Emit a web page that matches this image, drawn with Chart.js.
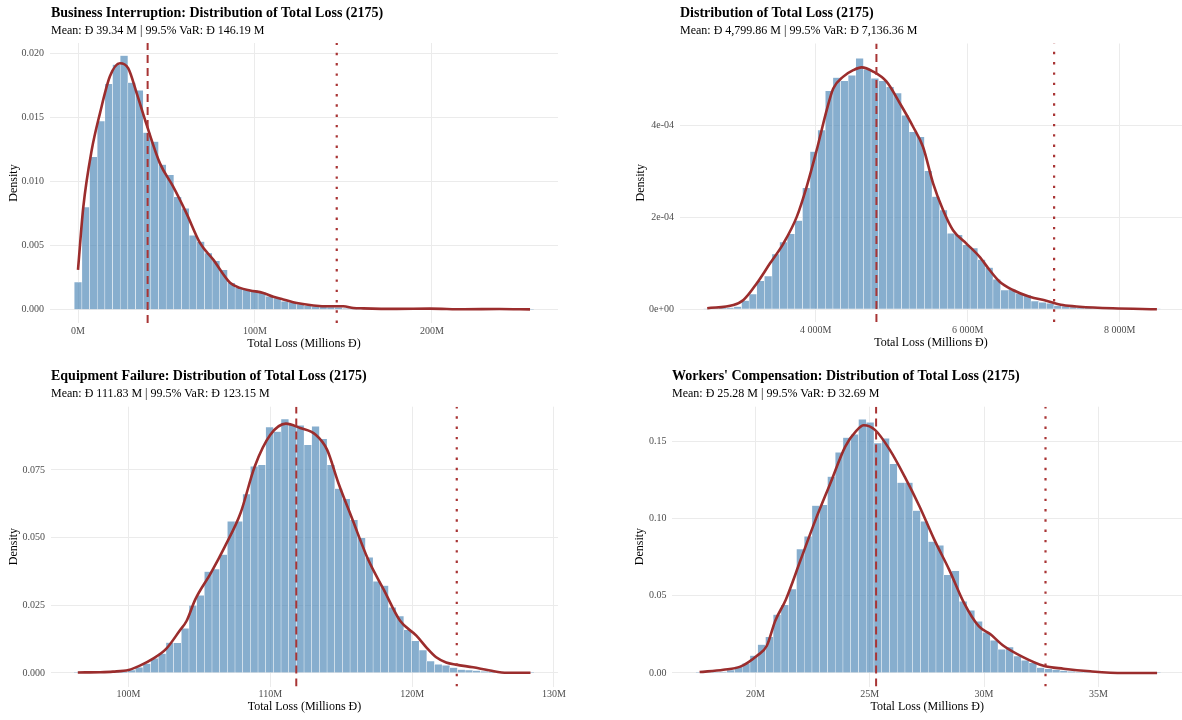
<!DOCTYPE html>
<html>
<head>
<meta charset="utf-8">
<title>Distribution of Total Loss (2175)</title>
<script src="https://cdn.jsdelivr.net/npm/chart.js@4.4.1/dist/chart.umd.min.js"></script>
<style>
  body { margin: 0; width: 1182px; height: 720px; overflow: hidden; background: #fff; position: relative;
         font-family: "Liberation Serif", "Times New Roman", "DejaVu Serif", serif; }
  .panel { position: absolute; width: 591px; height: 360px; }
  .panel canvas { position: absolute; left: 0; top: 0; }
  .titulo { position: absolute; font-weight: bold; font-size: 14px; line-height: 16px; white-space: nowrap; color: #000; }
  .subtitulo { position: absolute; font-size: 12px; line-height: 14px; white-space: nowrap; color: #000; }
</style>
</head>
<body>

<div class="panel" style="left:0px;top:0px"><canvas id="chartBI" width="591" height="360"></canvas></div>
<div class="panel" style="left:591px;top:0px"><canvas id="chartTotal" width="591" height="360"></canvas></div>
<div class="panel" style="left:0px;top:360px"><canvas id="chartEF" width="591" height="360"></canvas></div>
<div class="panel" style="left:591px;top:360px"><canvas id="chartWC" width="591" height="360"></canvas></div>

<div class="titulo" style="left:51px;top:5px">Business Interruption: Distribution of Total Loss (2175)</div>
<div class="subtitulo" style="left:51px;top:23px">Mean: Đ 39.34 M | 99.5% VaR: Đ 146.19 M</div>
<div class="titulo" style="left:680px;top:5px">Distribution of Total Loss (2175)</div>
<div class="subtitulo" style="left:680px;top:23px">Mean: Đ 4,799.86 M | 99.5% VaR: Đ 7,136.36 M</div>
<div class="titulo" style="left:51px;top:368px">Equipment Failure: Distribution of Total Loss (2175)</div>
<div class="subtitulo" style="left:51px;top:386px">Mean: Đ 111.83 M | 99.5% VaR: Đ 123.15 M</div>
<div class="titulo" style="left:672px;top:368px">Workers' Compensation: Distribution of Total Loss (2175)</div>
<div class="subtitulo" style="left:672px;top:386px">Mean: Đ 25.28 M | 99.5% VaR: Đ 32.69 M</div>

<script>
// ---- Business Interruption (millions) ----
var biBinStart = 0.05;   // centre of first bin
var biBinWidth = 4.328;
var biBars = [0.00215, 0.0080, 0.0119, 0.0147, 0.0176, 0.0191, 0.0198, 0.0177, 0.0171, 0.0138,
              0.0131, 0.0113, 0.0105, 0.0088, 0.0079, 0.0058, 0.0053, 0.0044, 0.0038, 0.0031,
              0.0021, 0.0017, 0.00156, 0.0015, 0.00135, 0.00103, 0.0009, 0.00064, 0.00057, 0.00044,
              0.0003, 0.00025, 0.00025, 0.0002, 0.00018, 0.0001, 0.00008, 0.00006, 0.00005, 0.00004,
              0.00003, 0.00002, 0.00002, 0.00001, 0.00002, 0.00001, 0.00001, 0, 0.00001, 0,
              0.00001, 0, 0, 0.00001, 0, 0, 0, 0, 0, 0.00001];
var biCurveX = [0, 3.0, 7.7, 12.4, 18.1, 23.7, 28.4, 33.1, 38.8, 46.3, 53.7, 61.3, 68.9, 76.4, 85.9, 91.5,
                97.2, 104.7, 110.4, 116, 123.6, 133, 142.4, 149.9, 155.6, 161.2, 180, 198.9, 218, 238, 255.4];
var biCurveY = [0.0031, 0.0080, 0.0124, 0.0153, 0.0182, 0.0192, 0.0188, 0.0169, 0.0144, 0.0114, 0.0096, 0.0075,
                0.0052, 0.0039, 0.0021, 0.0017, 0.0015, 0.0013, 0.0010, 0.0008, 0.00052, 0.00033, 0.00026,
                0.00026, 0.00013, 0.0001, 0.00006, 0.00008, 0.00003, 0.00005, 0.00002];
var biMean = 39.34, biVaR = 146.19;
var biXTicks = [0, 100, 200];
var biYTicks = [0, 0.005, 0.010, 0.015, 0.020];

// ---- Total (all lines) ----
var totBinStart = 2575;
var totBinWidth = 100.2;
var totBars = [0.000001, 0.000002, 0.000003, 0.000004, 0.000006, 0.000019, 0.000033, 0.000062, 0.000072, 0.000120,
               0.000146, 0.000164, 0.000193, 0.000264, 0.000343, 0.000390, 0.000475, 0.000504, 0.000497, 0.000509,
               0.000546, 0.000522, 0.000502, 0.000497, 0.000484, 0.000470, 0.000422, 0.000386, 0.000375, 0.000301,
               0.000245, 0.000216, 0.000165, 0.000162, 0.000140, 0.000133, 0.000108, 0.000091, 0.000065, 0.000042,
               0.0000435, 0.000035, 0.000031, 0.000018, 0.000015, 0.000013, 0.000008, 0.000007, 0.000005, 0.0000035,
               0.000003, 0.000002, 0.0000015, 0.000001, 0.000001, 0.0000005, 0.0000005, 0.0000003, 0.0000002, 0.0000002];
var totCurveX = [2575, 2920, 3051, 3227, 3401, 3576, 3752, 3883, 4014, 4146, 4232, 4364, 4495, 4605, 4757, 4933,
                 5108, 5282, 5413, 5545, 5676, 5807, 5983, 6157, 6288, 6420, 6594, 6814, 7033, 7251, 7470, 7907, 8488];
var totCurveY = [0.0000022, 0.0000093, 0.0000202, 0.0000565, 0.0001, 0.000143, 0.000201, 0.000267, 0.000346,
                 0.000433, 0.00048, 0.000506, 0.00052, 0.000526, 0.000517, 0.000495, 0.000448, 0.000397, 0.000353,
                 0.000274, 0.000216, 0.000172, 0.000143, 0.000114, 0.0000854, 0.00006, 0.000042, 0.0000274,
                 0.0000187, 0.0000093, 0.0000057, 0.0000022, 0];
var totMean = 4799.86, totVaR = 7136.36;
var totXTicks = [4000, 6000, 8000];
var totYTicks = [0, 0.0002, 0.0004];

// ---- Equipment Failure ----
var efBinStart = 96.42;
var efBinWidth = 0.541;
var efBars = [0.0001, 0.0001, 0.0002, 0.0002, 0.0003, 0.0004, 0.0005, 0.0011, 0.0021, 0.0035,
              0.0054, 0.0072, 0.0112, 0.0111, 0.0165, 0.0250, 0.0287, 0.0375, 0.0384, 0.0437,
              0.0560, 0.0560, 0.0661, 0.0763, 0.0769, 0.0908, 0.0892, 0.0938, 0.0917, 0.0915,
              0.0843, 0.0911, 0.0865, 0.0769, 0.0681, 0.0643, 0.0566, 0.0499, 0.0427, 0.0339,
              0.0323, 0.0243, 0.0210, 0.0159, 0.0119, 0.0085, 0.0044, 0.0032, 0.0028, 0.0020,
              0.0013, 0.0011, 0.0009, 0.0006, 0.0004, 0.0002, 0.0001, 0.0001, 0.00005, 0.00005];
var efCurveX = [96.42, 98.0, 98.9, 100.0, 100.8, 101.7, 102.65, 103.6, 104.1, 104.7, 105.8, 106.8, 107.9, 108.9,
                110.0, 111.1, 112.1, 113.2, 114.0, 114.8, 115.8, 116.9, 118.0, 119.15, 120.3, 121.0, 121.7,
                122.4, 123.1, 124.3, 125.5, 126.7, 128.35];
var efCurveY = [0.0002, 0.0003, 0.0005, 0.0011, 0.0027, 0.0052, 0.0089, 0.0156, 0.0193, 0.0271, 0.0369, 0.0468,
                0.0591, 0.0763, 0.0880, 0.0921, 0.0905, 0.0880, 0.0825, 0.0702, 0.0566, 0.0419, 0.0308, 0.0193,
                0.0138, 0.0095, 0.0058, 0.0039, 0.0031, 0.0021, 0.0009, 0.0001, 0.0001];
var efMean = 111.83, efVaR = 123.15;
var efXTicks = [100, 110, 120, 130];
var efYTicks = [0, 0.025, 0.050, 0.075];

// ---- Workers' Compensation ----
var wcBinStart = 17.56;
var wcBinWidth = 0.339;
var wcBars = [0.0001, 0.0002, 0.0004, 0.0008, 0.0019, 0.0041, 0.0062, 0.0112, 0.0183, 0.0234,
              0.0377, 0.0441, 0.0543, 0.0801, 0.0883, 0.1083, 0.1087, 0.1270, 0.1427, 0.1522,
              0.1544, 0.1641, 0.1621, 0.1486, 0.1518, 0.1352, 0.1232, 0.1232, 0.1051, 0.0980,
              0.0850, 0.0825, 0.0635, 0.0661, 0.0463, 0.0405, 0.0334, 0.0263, 0.0211, 0.0153,
              0.0168, 0.0110, 0.0082, 0.0065, 0.0035, 0.0027, 0.0022, 0.0015, 0.0011, 0.0006,
              0.0004, 0.0003, 0.0002, 0.0001, 0.0001, 0.00005, 0.00005, 0, 0, 0.00005];
var wcCurveX = [17.56, 18.6, 19.34, 20.07, 20.5, 20.87, 21.33, 21.98, 22.63, 23.28, 23.93, 24.42, 24.74, 25.23,
                25.88, 26.53, 27.18, 27.83, 28.48, 29.13, 29.78, 30.27, 30.85, 31.73, 32.6, 33.48, 34.65, 36.1, 37.57];
var wcCurveY = [0.0006, 0.0021, 0.0041, 0.0112, 0.0176, 0.0338, 0.0474, 0.0732, 0.0990, 0.1227, 0.1464, 0.1567,
                0.1602, 0.1572, 0.1443, 0.1270, 0.1077, 0.0861, 0.0667, 0.0452, 0.0301, 0.0252, 0.0176, 0.0101,
                0.0047, 0.0028, 0.0011, 0, 0];
var wcMean = 25.28, wcVaR = 32.69;
var wcXTicks = [20, 25, 30, 35];
var wcYTicks = [0, 0.05, 0.10, 0.15];

// colours
var barFill = 'rgba(70, 130, 180, 0.65)';
var curveColor = '#9b2d2d';
var lineColor = '#a83434';
var gridColor = '#ebebeb';
var tickColor = '#4d4d4d';
var serif = '"Liberation Serif", "Times New Roman", serif';

// one histogram panel: bars + density + mean (dashed) + VaR (dotted)
function histPanel(id, p) {
    var barData = p.bars.map(function (d, i) { return { x: p.binStart + i * p.binWidth, y: d }; });
    var curveData = p.curveX.map(function (x, i) { return { x: x, y: p.curveY[i] }; });
    var meanLine = [{ x: p.mean, y: p.yLim[0] }, { x: p.mean, y: p.yLim[1] }];
    var varLine = [{ x: p.vaR, y: p.yLim[0] }, { x: p.vaR, y: p.yLim[1] }];

    return new Chart(document.getElementById(id).getContext('2d'), {
        type: 'bar',
        data: {
            datasets: [
                { type: 'line', data: meanLine, borderColor: lineColor, borderWidth: 2,
                  borderDash: [8, 5], pointRadius: 0, order: 0 },
                { type: 'line', data: varLine, borderColor: lineColor, borderWidth: 2.2,
                  borderDash: [2.4, 7.9], pointRadius: 0, order: 0 },
                { type: 'line', data: curveData, borderColor: curveColor, borderWidth: 2.6,
                  cubicInterpolationMode: 'monotone', pointRadius: 0, fill: false, order: 1 },
                { type: 'bar', data: barData, backgroundColor: barFill, borderColor: '#ffffff',
                  borderWidth: 0.5, barPercentage: 1, categoryPercentage: 1, grouped: false, order: 2 }
            ]
        },
        options: {
            responsive: false,
            animation: false,
            events: [],
            layout: { padding: p.pad },
            plugins: { legend: { display: false }, tooltip: { enabled: false }, title: { display: false } },
            scales: {
                x: {
                    type: 'linear', min: p.xLim[0], max: p.xLim[1], offset: false,
                    afterBuildTicks: function (s) { s.ticks = p.xTicks.map(function (v) { return { value: v }; }); },
                    afterFit: function (s) { s.height = 28; },
                    grid: { color: gridColor, lineWidth: 1, drawTicks: false, offset: false },
                    border: { display: false },
                    ticks: { padding: 2, autoSkip: false, maxRotation: 0, color: tickColor,
                             font: { family: serif, size: 10 }, callback: p.xFmt },
                    title: { display: true, text: 'Total Loss (Millions Đ)', color: '#000',
                             font: { family: serif, size: 12 }, padding: { top: 0, bottom: 0 } }
                },
                y: {
                    type: 'linear', min: p.yLim[0], max: p.yLim[1],
                    afterBuildTicks: function (s) { s.ticks = p.yTicks.map(function (v) { return { value: v }; }); },
                    afterFit: function (s) { s.width = p.yWidth; },
                    grid: { color: gridColor, lineWidth: 1, drawTicks: false },
                    border: { display: false },
                    ticks: { padding: 6, autoSkip: false, color: tickColor,
                             font: { family: serif, size: 10 }, callback: p.yFmt },
                    title: { display: true, text: 'Density', color: '#000',
                             font: { family: serif, size: 12 }, padding: { top: 6.8, bottom: 0 } }
                }
            }
        }
    });
}

function millions(v) { return v + 'M'; }

histPanel('chartBI', {
    bars: biBars, binStart: biBinStart, binWidth: biBinWidth, curveX: biCurveX, curveY: biCurveY,
    mean: biMean, vaR: biVaR, xTicks: biXTicks, yTicks: biYTicks,
    xLim: [-15.82, 271.2], yLim: [-0.00104, 0.02078],
    pad: { left: 0, right: 33, top: 43, bottom: 9 }, yWidth: 50,
    xFmt: millions, yFmt: function (v) { return v.toFixed(3); }
});

histPanel('chartTotal', {
    bars: totBars, binStart: totBinStart, binWidth: totBinWidth, curveX: totCurveX, curveY: totCurveY,
    mean: totMean, vaR: totVaR, xTicks: totXTicks, yTicks: totYTicks,
    xLim: [2217, 8818], yLim: [-0.0000276, 0.000578],
    pad: { left: 36, right: 0, top: 43.5, bottom: 10 }, yWidth: 53,
    xFmt: function (v) { return (v / 1000) + ' 000M'; },
    yFmt: function (v) { return v === 0 ? '0e+00' : (v * 10000).toFixed(0) + 'e-04'; }
});

histPanel('chartEF', {
    bars: efBars, binStart: efBinStart, binWidth: efBinWidth, curveX: efCurveX, curveY: efCurveY,
    mean: efMean, vaR: efVaR, xTicks: efXTicks, yTicks: efYTicks,
    xLim: [94.53, 130.29], yLim: [-0.00499, 0.09837],
    pad: { left: 0, right: 33, top: 46.7, bottom: 5.5 }, yWidth: 51,
    xFmt: millions, yFmt: function (v) { return v.toFixed(3); }
});

histPanel('chartWC', {
    bars: wcBars, binStart: wcBinStart, binWidth: wcBinWidth, curveX: wcCurveX, curveY: wcCurveY,
    mean: wcMean, vaR: wcVaR, xTicks: wcXTicks, yTicks: wcYTicks,
    xLim: [16.37, 38.66], yLim: [-0.00873, 0.1722],
    pad: { left: 35, right: 0, top: 46.7, bottom: 5.5 }, yWidth: 46.4,
    xFmt: millions, yFmt: function (v) { return v.toFixed(2); }
});
</script>
</body>
</html>
